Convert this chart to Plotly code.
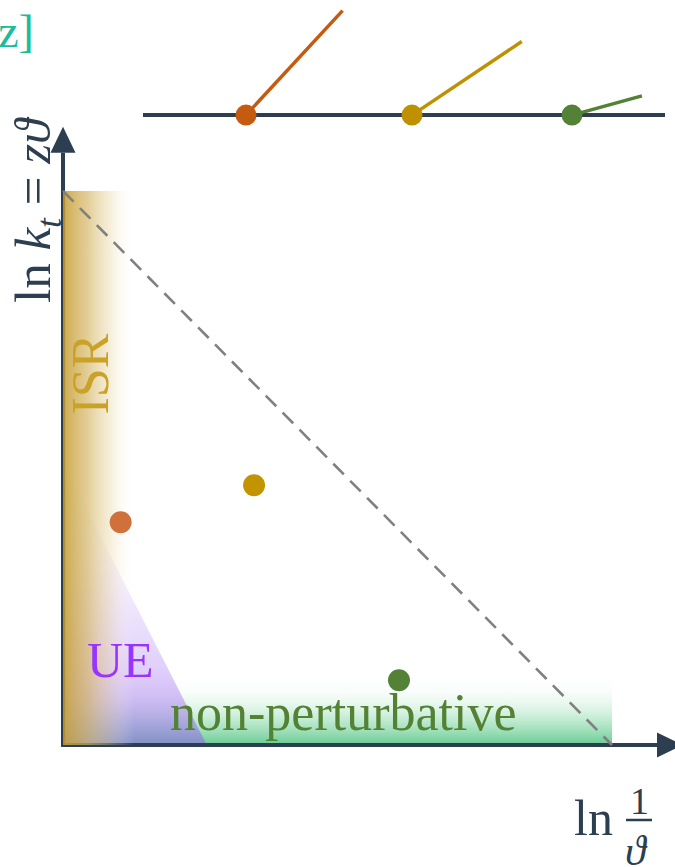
import plotly.graph_objects as go
import numpy as np

# ---------------------------------------------------------------
# Lund-plane sketch: ln(1/theta) horizontally, ln kt vertically
# ---------------------------------------------------------------
NAVY = "#2c3e50"
SERIF = "Liberation Serif"

L_MAX = 10.0                      # extent of the kinematic triangle

# emissions placed in the plane
emission_ln_inv_theta = [1.05, 3.48, 6.12]
emission_ln_kt = [4.02, 4.69, 1.17]
emission_colors = ["#d0703a", "#c29500", "#538135"]

# regions of the plane
isr_width = 1.30                  # ISR band along ln(1/theta) ~ 0
ue_height = 5.10                  # UE triangle apex on ln kt axis
ue_base = 2.62                    # UE triangle foot on ln(1/theta) axis
np_height = 1.30                  # non-perturbative strip at low kt

# primary jet with its three emissions (drawn above the plane)
jet_level = 11.37
jet_span = [1.457, 10.965]
vertex_pos = [3.333, 6.357, 9.271]
branch_angle_deg = [47.0, 33.6, 15.2]
branch_length = [2.58, 2.40, 1.32]
branch_colors = ["#c55a11", "#bf9000", "#538135"]

# canvas <-> plane mapping
W, H = 675, 867
ORIGIN_PX = (63, 745)
SX, SY = 54.9, 55.4


def ux(px):
    return (px - ORIGIN_PX[0]) / SX


def vy(py):
    return (ORIGIN_PX[1] - py) / SY


fig = go.Figure()

# non-perturbative strip (green, fading upwards)
fig.add_trace(go.Scatter(
    x=[0, L_MAX, L_MAX, 0, 0], y=[0, 0, np_height, np_height, 0],
    mode="lines", line=dict(width=0), fill="toself",
    fillgradient=dict(type="vertical", colorscale=[
        [0.0, "rgba(95,200,140,0.95)"],
        [0.35, "rgba(150,222,180,0.6)"],
        [0.7, "rgba(210,240,222,0.22)"],
        [1.0, "rgba(255,255,255,0)"]]),
    hoverinfo="skip"))

# underlying-event triangle (purple, fading upwards)
fig.add_trace(go.Scatter(
    x=[0, 0, ue_base, 0], y=[0, ue_height, 0, 0],
    mode="lines", line=dict(width=0), fill="toself",
    fillgradient=dict(type="vertical", colorscale=[
        [0.0, "rgba(150,95,238,0.55)"],
        [0.3, "rgba(165,115,242,0.32)"],
        [0.7, "rgba(190,160,250,0.1)"],
        [1.0, "rgba(220,200,255,0.02)"]]),
    hoverinfo="skip"))

# axes with arrowheads
y_top = L_MAX + 0.69
x_end = ux(657)
head_len_y = 26 / SY
head_len_x = 26 / SX
head_half_x = 12.5 / SX
head_half_y = 12.5 / SY
fig.add_trace(go.Scatter(x=[0, 0], y=[-0.03, y_top], mode="lines",
                         line=dict(color=NAVY, width=4), hoverinfo="skip"))
fig.add_trace(go.Scatter(x=[-0.03, x_end], y=[0, 0], mode="lines",
                         line=dict(color=NAVY, width=4), hoverinfo="skip"))
fig.add_trace(go.Scatter(
    x=[-head_half_x, head_half_x, 0, -head_half_x],
    y=[y_top, y_top, y_top + head_len_y, y_top],
    mode="lines", line=dict(width=0), fill="toself", fillcolor=NAVY,
    hoverinfo="skip"))
fig.add_trace(go.Scatter(
    x=[x_end, x_end, x_end + head_len_x, x_end],
    y=[-head_half_y, head_half_y, 0, -head_half_y],
    mode="lines", line=dict(width=0), fill="toself", fillcolor=NAVY,
    hoverinfo="skip"))

# initial-state-radiation band (gold, fading to the right)
fig.add_trace(go.Scatter(
    x=[0, isr_width, isr_width, 0, 0], y=[0, 0, L_MAX, L_MAX, 0],
    mode="lines", line=dict(width=0), fill="toself",
    fillgradient=dict(type="horizontal", colorscale=[
        [0.0, "rgba(185,145,35,0.93)"],
        [0.05, "rgba(200,162,60,0.85)"],
        [0.35, "rgba(212,180,95,0.65)"],
        [0.65, "rgba(228,205,145,0.35)"],
        [1.0, "rgba(255,255,255,0)"]]),
    hoverinfo="skip"))

# kinematic limit
fig.add_trace(go.Scatter(
    x=[0, L_MAX], y=[L_MAX, 0], mode="lines",
    line=dict(color="#808080", width=2.6, dash="15px,9px"),
    hoverinfo="skip"))

# emissions in the plane
fig.add_trace(go.Scatter(
    x=emission_ln_inv_theta, y=emission_ln_kt, mode="markers",
    marker=dict(size=22, color=emission_colors, line=dict(width=0)),
    hoverinfo="skip"))

# primary jet sketch
fig.add_trace(go.Scatter(x=jet_span, y=[jet_level, jet_level], mode="lines",
                         line=dict(color=NAVY, width=4), hoverinfo="skip"))
for xv, ang, ln_, col in zip(vertex_pos, branch_angle_deg, branch_length,
                             branch_colors):
    a = np.radians(ang)
    fig.add_trace(go.Scatter(
        x=[xv, xv + ln_ * np.cos(a)], y=[jet_level, jet_level + ln_ * np.sin(a)],
        mode="lines", line=dict(color=col, width=3.5), hoverinfo="skip"))
fig.add_trace(go.Scatter(
    x=vertex_pos, y=[jet_level] * len(vertex_pos), mode="markers",
    marker=dict(size=21, color=branch_colors, line=dict(width=0)),
    hoverinfo="skip"))

# fraction bar of the ln(1/theta) label
fig.add_trace(go.Scatter(x=[ux(626), ux(652)], y=[vy(820), vy(820)],
                         mode="lines", line=dict(color=NAVY, width=2.5),
                         hoverinfo="skip"))

ann = []


def text(x, y, s, size, color, angle=0, xanchor="center", yanchor="middle"):
    ann.append(dict(x=x, y=y, text=s, showarrow=False, textangle=angle,
                    xanchor=xanchor, yanchor=yanchor,
                    font=dict(family=SERIF, size=size, color=color)))


text(ux(89.5), vy(374), "ISR", 52, "#c9a227", angle=-90)
text(ux(120.5), vy(660), "UE", 50, "#9933ff")
text(ux(343), vy(712), "non-perturbative", 52, "#548235")
text(ux(37), vy(210), "ln <i>k</i><sub><i>t</i></sub> = <i>zϑ</i>", 51,
     NAVY, angle=-90)
text(ux(593.5), vy(818), "ln", 50, NAVY)
text(ux(639.5), vy(801), "1", 38, NAVY)
text(ux(636), vy(851), "<i>ϑ</i>", 42, NAVY)
text(ux(36), vy(31), "[Dreyer, Salam, Soyez]", 46, "#1abc9c", xanchor="right")

fig.update_layout(
    width=W, height=H, margin=dict(l=0, r=0, t=0, b=0),
    paper_bgcolor="white", plot_bgcolor="white", showlegend=False,
    xaxis=dict(range=[ux(0), ux(W)], visible=False, fixedrange=True),
    yaxis=dict(range=[vy(H), vy(0)], visible=False, fixedrange=True),
    annotations=ann,
)

fig.write_html("out.html", config={"displayModeBar": False})
